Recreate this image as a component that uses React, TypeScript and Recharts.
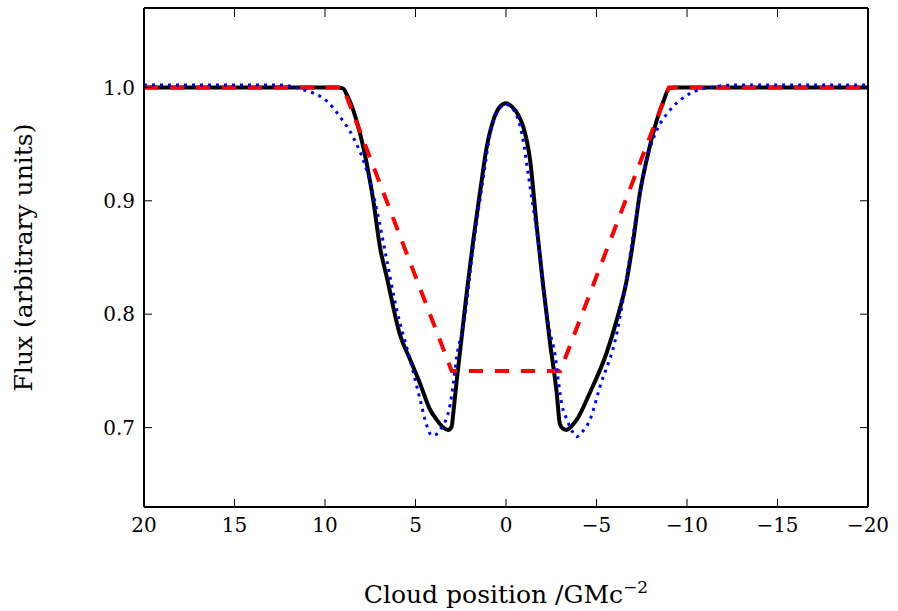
import React from "react";
import { LineChart, Line, XAxis, YAxis, Label } from "recharts";

// ─── Data ────────────────────────────────────────────────────────────────────

const xTicks = [20, 15, 10, 5, 0, -5, -10, -15, -20];
const yTicks = [0.7, 0.8, 0.9, 1.0];

// black solid: full model
const solidX = [
    20, 9.3, 9.0, 8.75, 8.44, 7.88, 7.33, 6.96, 6.59, 5.86, 5.3, 4.75, 4.2, 3.83, 3.46, 3.19,
    3.0, 2.91, 2.72, 2.54, 2.17, 1.81, 1.44, 1.07, 0.7, 0.33, 0,
    -0.33, -0.7, -0.96, -1.33, -1.7, -2.06, -2.43, -2.8, -2.98, -3.15, -3.35, -3.6, -3.91, -4.64,
    -5.56, -6.12, -6.67, -7.03, -7.4, -7.77, -8.33, -8.75, -9.0, -9.3, -20,
];
const solidY = [
    1.0, 1.0, 0.999, 0.992, 0.98, 0.947, 0.9, 0.859, 0.833, 0.782, 0.76, 0.739, 0.716, 0.707, 0.7, 0.698,
    0.701, 0.713, 0.742, 0.767, 0.819, 0.865, 0.907, 0.947, 0.971, 0.983, 0.986,
    0.983, 0.975, 0.965, 0.936, 0.877, 0.824, 0.775, 0.731, 0.703, 0.699, 0.698, 0.701, 0.707, 0.731,
    0.766, 0.795, 0.83, 0.865, 0.907, 0.936, 0.971, 0.99, 0.999, 1.0, 1.0,
];

// red dashed: linear approximation
const dashX = [20, 9, 3, -3, -9, -20];
const dashY = [1.0, 1.0, 0.75, 0.75, 1.0, 1.0];

// blue dotted: smoothed model
const dotX = [
    20, 12.5, 11.9, 11.2, 10.65, 9.9, 9.17, 8.44, 7.7, 7.14, 6.59, 6.04, 5.3, 4.75, 4.38, 4.1, 3.85,
    3.65, 3.37, 3.09, 2.91, 2.72, 2.36, 1.81, 1.25, 0.88, 0.5, 0,
    -0.5, -0.88, -1.25, -1.81, -2.36, -2.72, -2.91, -3.09, -3.37, -3.65, -3.91, -4.2, -4.64, -5.19,
    -6.12, -6.67, -7.22, -7.77, -8.33, -9.06, -9.8, -10.5, -11.3, -12.5, -20,
];
const dotY = [
    1.002, 1.002, 1.001, 0.998, 0.995, 0.988, 0.974, 0.956, 0.927, 0.892, 0.848, 0.804, 0.76, 0.725, 0.702, 0.693, 0.694,
    0.698, 0.705, 0.72, 0.739, 0.763, 0.789, 0.86, 0.921, 0.959, 0.978, 0.985,
    0.978, 0.959, 0.921, 0.86, 0.789, 0.763, 0.739, 0.72, 0.707, 0.697, 0.692, 0.696, 0.707, 0.736,
    0.783, 0.833, 0.889, 0.936, 0.962, 0.98, 0.991, 0.997, 1.0, 1.002, 1.002,
];

const toRows = (xs: number[], ys: number[]) => xs.map((x, i) => ({ x, y: ys[i] }));

// ─── Styling ──────────────────────────────────────────────────────────────────

const FONT = "'DejaVu Serif', serif";
const TICK_FS = 20;
const LABEL_FS = 25;
const TICK_LEN = 8;
const GAP = 9;

const fmtX = (v: number) => (v < 0 ? `\u2212${Math.abs(v)}` : String(v));

// ─── Custom ticks (inward tick marks on all four sides) ──────────────────────

function BottomTick({ x, y, payload }: any) {
    const axisY = y - GAP;
    return (
        <g>
            <line x1={x} x2={x} y1={axisY} y2={axisY - TICK_LEN} stroke="#000" strokeWidth={1} />
            <text x={x} y={y} dy="0.8em" textAnchor="middle" fontFamily={FONT} fontSize={TICK_FS} fill="#000">
                {fmtX(payload.value)}
            </text>
        </g>
    );
}

function TopTick({ x, y }: any) {
    return <line x1={x} x2={x} y1={y + 1} y2={y + 1 + TICK_LEN} stroke="#000" strokeWidth={1} />;
}

function LeftTick({ x, y, payload }: any) {
    const axisX = x + GAP;
    return (
        <g>
            <line x1={axisX} x2={axisX + TICK_LEN} y1={y} y2={y} stroke="#000" strokeWidth={1} />
            <text x={x} y={y} dy="0.36em" textAnchor="end" fontFamily={FONT} fontSize={TICK_FS} fill="#000">
                {payload.value.toFixed(1)}
            </text>
        </g>
    );
}

function RightTick({ x, y }: any) {
    return <line x1={x} x2={x - TICK_LEN} y1={y} y2={y} stroke="#000" strokeWidth={1} />;
}

// ─── Axis titles ──────────────────────────────────────────────────────────────

function XTitle({ viewBox }: any) {
    const cx = viewBox.x + viewBox.width / 2;
    return (
        <text x={cx} y={viewBox.y + 96} textAnchor="middle" fontFamily={FONT} fontSize={LABEL_FS} fill="#000">
            Cloud position /GMc
            <tspan dy={-10} fontSize={17}>{"\u22122"}</tspan>
        </text>
    );
}

function YTitle({ viewBox }: any) {
    const cx = viewBox.x + 32;
    const cy = viewBox.y + viewBox.height / 2;
    return (
        <text
            x={cx}
            y={cy}
            transform={`rotate(-90, ${cx}, ${cy})`}
            textAnchor="middle"
            fontFamily={FONT}
            fontSize={LABEL_FS}
            fill="#000"
        >
            Flux (arbitrary units)
        </text>
    );
}

const AXIS_LINE = { stroke: "#000", strokeWidth: 2 };

export default function App() {
    return (
        <div style={{ position: "absolute", left: 0, top: 0, background: "#fff" }}>
            <LineChart width={898} height={611} margin={{ top: 7, right: 29, left: 0, bottom: 0 }}>
                <XAxis
                    dataKey="x"
                    type="number"
                    domain={[-20, 20]}
                    reversed
                    ticks={xTicks}
                    height={104}
                    tickLine={false}
                    tickSize={0}
                    tickMargin={GAP}
                    tick={<BottomTick />}
                    axisLine={AXIS_LINE}
                    allowDataOverflow
                >
                    <Label content={<XTitle />} />
                </XAxis>
                <XAxis
                    xAxisId="top"
                    orientation="top"
                    dataKey="x"
                    type="number"
                    domain={[-20, 20]}
                    reversed
                    ticks={xTicks}
                    height={1}
                    tickLine={false}
                    tickSize={0}
                    tickMargin={0}
                    tick={<TopTick />}
                    axisLine={AXIS_LINE}
                    allowDataOverflow
                />
                <YAxis
                    type="number"
                    domain={[0.63, 1.07]}
                    ticks={yTicks}
                    width={144}
                    tickLine={false}
                    tickSize={0}
                    tickMargin={GAP}
                    tick={<LeftTick />}
                    axisLine={AXIS_LINE}
                    allowDataOverflow
                >
                    <Label content={<YTitle />} />
                </YAxis>
                <YAxis
                    yAxisId="right"
                    orientation="right"
                    type="number"
                    domain={[0.63, 1.07]}
                    ticks={yTicks}
                    width={1}
                    tickLine={false}
                    tickSize={0}
                    tickMargin={0}
                    tick={<RightTick />}
                    axisLine={AXIS_LINE}
                    allowDataOverflow
                />
                <Line
                    data={toRows(solidX, solidY)}
                    dataKey="y"
                    type="monotone"
                    stroke="#000"
                    strokeWidth={4}
                    dot={false}
                    activeDot={false}
                    isAnimationActive={false}
                />
                <Line
                    data={toRows(dashX, dashY)}
                    dataKey="y"
                    type="linear"
                    stroke="#ff0000"
                    strokeWidth={4}
                    strokeDasharray="14 12"
                    dot={false}
                    activeDot={false}
                    isAnimationActive={false}
                />
                <Line
                    data={toRows(dotX, dotY)}
                    dataKey="y"
                    type="monotone"
                    stroke="#0000ff"
                    strokeWidth={3}
                    strokeDasharray="3 5"
                    dot={false}
                    activeDot={false}
                    isAnimationActive={false}
                />
            </LineChart>
        </div>
    );
}
